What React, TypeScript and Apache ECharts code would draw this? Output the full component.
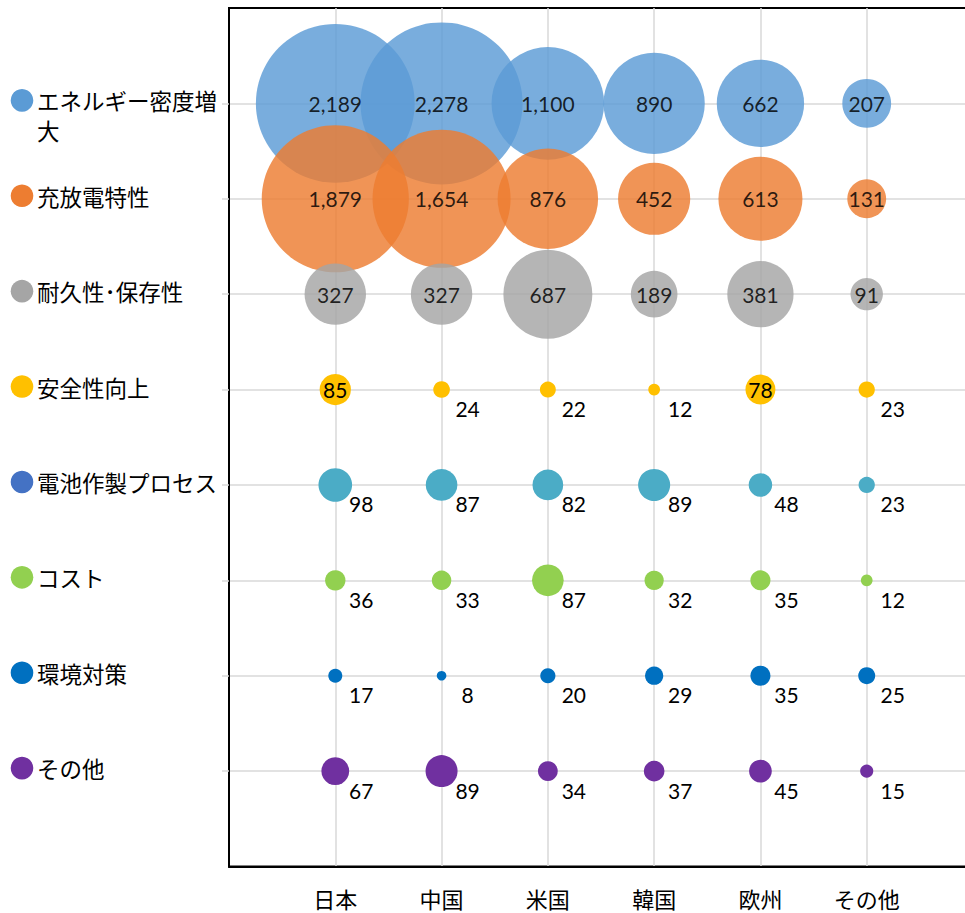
import React, { useEffect, useRef } from 'react';
import * as echarts from 'echarts';

const countries = ['日本', '中国', '米国', '韓国', '欧州', 'その他'];
const topics = ['エネルギー密度増大', '充放電特性', '耐久性･保存性', '安全性向上', '電池作製プロセス', 'コスト', '環境対策', 'その他'];

const energyDensity = [2189, 2278, 1100, 890, 662, 207];
const chargeDischarge = [1879, 1654, 876, 452, 613, 131];
const durability = [327, 327, 687, 189, 381, 91];
const safety = [85, 24, 22, 12, 78, 23];
const cellProcess = [98, 87, 82, 89, 48, 23];
const cost = [36, 33, 87, 32, 35, 12];
const environment = [17, 8, 20, 29, 35, 25];
const others = [67, 89, 34, 37, 45, 15];

const seriesValues = [energyDensity, chargeDischarge, durability, safety, cellProcess, cost, environment, others];

const bubbleColors = ['#5B9BD5', '#ED7D31', '#A5A5A5', '#FFC000', '#4BACC6', '#92D050', '#0070C0', '#7030A0'];
const legendColors = ['#5B9BD5', '#ED7D31', '#A5A5A5', '#FFC000', '#4472C4', '#92D050', '#0070C0', '#7030A0'];

const JP = '"Noto Sans CJK JP", sans-serif';
const NUM = 'Lato, "Noto Sans", sans-serif';

export default function App() {
  const ref = useRef<HTMLDivElement>(null);

  useEffect(() => {
    if (!ref.current) return;
    const chart = echarts.init(ref.current, undefined, { renderer: 'svg' });
    const n = topics.length;

    const series = seriesValues.map((vals, si) => ({
      type: 'scatter',
      name: topics[si],
      data: vals.map((v, ci) => {
        const inside = si < 3 || (si === 3 && v >= 50);
        return {
          value: [ci + 1, n - si, v],
          label: inside
            ? { position: 'inside', offset: [0, 0] }
            : { position: 'inside', offset: [26, 19] },
        };
      }),
      symbol: 'circle',
      symbolSize: (d: number[]) => 3.394 * Math.sqrt(d[2]),
      itemStyle: { color: bubbleColors[si], opacity: si < 3 ? 0.82 : 1 },
      label: {
        show: true,
        formatter: (p: any) => Number(p.value[2]).toLocaleString('en-US'),
        color: '#000',
        fontFamily: NUM,
        fontSize: 21,
      },
      emphasis: { disabled: true },
    }));

    chart.setOption({
      animation: false,
      grid: {
        left: 229,
        top: 8,
        width: 744,
        bottom: 46.5,
        outerBoundsMode: 'none',
        containLabel: false,
        show: true,
        borderColor: '#000',
        borderWidth: 2,
      },
      xAxis: {
        type: 'value',
        min: 0,
        max: 7,
        interval: 1,
        axisLine: { show: true, lineStyle: { color: '#000', width: 2 } },
        axisTick: { show: false },
        splitLine: { show: true, lineStyle: { color: '#D9D9D9', width: 1.5 } },
        axisLabel: {
          margin: 20,
          fontFamily: JP,
          fontSize: 22,
          color: '#000',
          formatter: (v: number) => (v >= 1 && v <= countries.length ? countries[v - 1] : ''),
        },
      },
      yAxis: {
        type: 'value',
        min: 0,
        max: 9,
        interval: 1,
        axisLine: { show: true, lineStyle: { color: '#000', width: 2 } },
        axisTick: {
          show: true,
          length: 7,
          customValues: topics.map((_, i) => i + 1),
          lineStyle: { color: '#D9D9D9', width: 1.5 },
        },
        splitLine: { show: true, lineStyle: { color: '#D9D9D9', width: 1.5 } },
        axisLabel: { show: false },
      },
      series,
    });

    const graphic: any[] = [];
    topics.forEach((t, i) => {
      const p = chart.convertToPixel({ gridIndex: 0 }, [0, n - i]) as number[];
      const cy = p[1] - 3;
      graphic.push({
        type: 'circle',
        shape: { cx: 22, cy, r: 11.3 },
        style: { fill: legendColors[i] },
      });
      graphic.push({
        type: 'text',
        x: 37,
        y: cy - 15,
        style: {
          text: t,
          font: `22.5px ${JP}`,
          fill: '#000',
          width: 186,
          overflow: 'break',
          lineHeight: 30,
          verticalAlign: 'top',
        },
      });
    });
    chart.setOption({ graphic });

    return () => chart.dispose();
  }, []);

  return (
    <div
      ref={ref}
      style={{ position: 'absolute', left: 0, top: 0, width: 965, height: 913, background: '#fff' }}
    />
  );
}
